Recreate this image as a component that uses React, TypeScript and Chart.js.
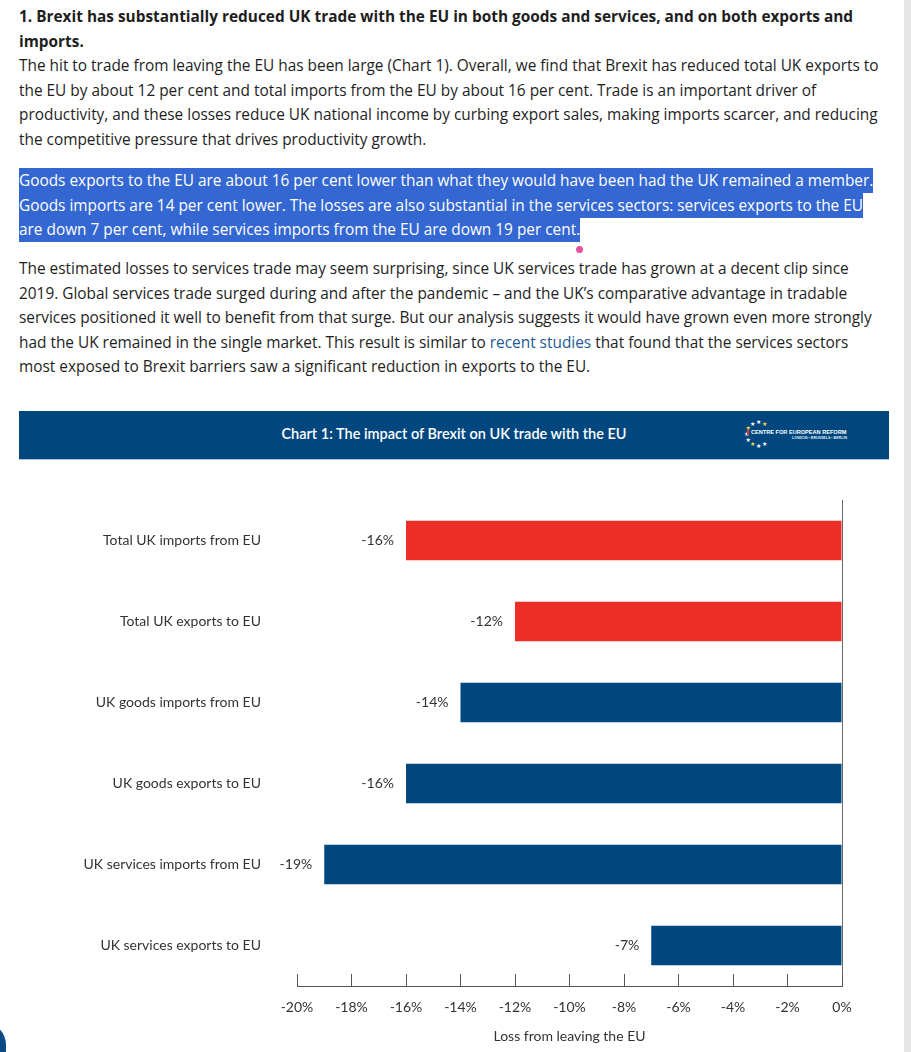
import React, { useEffect, useRef } from "react";
import { Chart, registerables } from "chart.js";

Chart.register(...registerables);

const categories = [
  "Total UK imports from EU",
  "Total UK exports to EU",
  "UK goods imports from EU",
  "UK goods exports to EU",
  "UK services imports from EU",
  "UK services exports to EU",
];
const lossValues = [-16, -12, -14, -16, -19, -7];
const barGroups = ["total", "total", "goods", "goods", "services", "services"];
const xMin = -20;
const xMax = 0;
const xStep = 2;
const axisTitle = "Loss from leaving the EU";
const chartTitle = "Chart 1: The impact of Brexit on UK trade with the EU";

const RED = "#ec2e28";
const NAVY = "#00477f";
const CHART_FONT = "Lato, 'Noto Sans', sans-serif";

const valueLabelPlugin = {
  id: "valueLabels",
  afterDatasetsDraw(chart: any) {
    const ctx = chart.ctx;
    const meta = chart.getDatasetMeta(0);
    ctx.save();
    ctx.font = `14px ${CHART_FONT}`;
    ctx.fillStyle = "#333";
    ctx.textAlign = "right";
    ctx.textBaseline = "middle";
    meta.data.forEach((el: any, i: number) => {
      const v = chart.data.datasets[0].data[i];
      ctx.fillText(`${v}%`, el.x - 12, el.y);
    });
    ctx.restore();
  },
};

function BarChart() {
  const ref = useRef<HTMLCanvasElement | null>(null);
  useEffect(() => {
    if (!ref.current) return;
    const chart = new Chart(ref.current, {
      type: "bar",
      data: {
        labels: categories,
        datasets: [
          {
            data: lossValues,
            backgroundColor: barGroups.map((g) => (g === "total" ? RED : NAVY)),
            borderWidth: 0,
            barPercentage: 0.49,
            categoryPercentage: 1,
          },
        ],
      },
      options: {
        indexAxis: "y",
        responsive: false,
        animation: false,
        devicePixelRatio: 1,
        layout: { padding: { top: 40, right: 47, left: 0, bottom: 0 } },
        plugins: { legend: { display: false }, tooltip: { enabled: false } },
        scales: {
          x: {
            min: xMin,
            max: xMax,
            ticks: {
              stepSize: xStep,
              callback: (v: any) => `${v}%`,
              font: { family: CHART_FONT, size: 14 },
              color: "#333",
              padding: 25,
              maxRotation: 0,
              autoSkip: false,
            },
            grid: {
              drawOnChartArea: true,
              color: (c: any) => (c.tick && c.tick.value === 0 ? "#666" : "rgba(0,0,0,0)"),
              tickColor: "#555",
              tickLength: -12,
              lineWidth: 1,
            },
            border: { display: true, color: "#555", width: 1 },
            title: {
              display: true,
              text: axisTitle,
              font: { family: CHART_FONT, size: 14, lineHeight: 1.2 },
              color: "#333",
              padding: { top: 0, bottom: 7 },
            },
            afterFit: (s: any) => {
              s.height = 66;
              s.paddingLeft = 0;
              s.paddingRight = 0;
            },
          },
          y: {
            ticks: {
              font: { family: CHART_FONT, size: 14 },
              color: "#333",
              padding: 36,
            },
            grid: { display: false, drawTicks: false },
            border: { display: false },
            afterFit: (s: any) => {
              s.width = 278;
              s.paddingTop = 0;
              s.paddingBottom = 0;
            },
          },
        },
      } as any,
      plugins: [valueLabelPlugin],
    });
    return () => chart.destroy();
  }, []);
  return (
    <canvas
      ref={ref}
      width={870}
      height={592}
      style={{ position: "absolute", left: 19, top: 460, width: 870, height: 592 }}
    />
  );
}

function Logo() {
  const cx = 759;
  const cy = 434;
  const r = 12;
  const angles = [60, 90, 120, 150, 180, 210, 240, 270, 300];
  return (
    <>
      {angles.map((a, i) => {
        const rad = (a * Math.PI) / 180;
        return (
          <span
            key={i}
            style={{
              position: "absolute",
              left: cx + r * Math.cos(rad) - 3,
              top: cy - r * Math.sin(rad) - 4,
              fontSize: 6,
              lineHeight: "8px",
              color: i % 3 === 0 ? "#f3d24a" : "#ffffff",
              fontFamily: "DejaVu Sans",
            }}
          >
            ★
          </span>
        );
      })}
      <div style={{ position: "absolute", left: 747, top: 430, width: 2, height: 5, background: "#e33" }} />
      <div
        style={{
          position: "absolute",
          left: 751,
          top: 428,
          fontFamily: "'Liberation Sans', Arial, sans-serif",
          fontWeight: 700,
          fontSize: 5.6,
          lineHeight: "8px",
          color: "#fff",
          whiteSpace: "nowrap",
        }}
      >
        CENTRE FOR EUROPEAN REFORM
      </div>
      <div
        style={{
          position: "absolute",
          left: 788,
          top: 436,
          width: 59,
          textAlign: "right",
          fontFamily: "'Liberation Sans', Arial, sans-serif",
          fontWeight: 700,
          fontSize: 3.6,
          lineHeight: "5px",
          color: "#dfe8f2",
          whiteSpace: "nowrap",
        }}
      >
        LONDON ▪ BRUSSELS ▪ BERLIN
      </div>
    </>
  );
}

const textStyle: React.CSSProperties = {
  position: "absolute",
  left: 19,
  width: 869,
  fontFamily: "'Open Sans', sans-serif",
  fontSize: 15.4,
  lineHeight: "24.6px",
  color: "#1e1e1e",
  margin: 0,
};

export default function App() {
  useEffect(() => {
    document.body.style.margin = "0";
  }, []);
  return (
    <div
      style={{
        position: "absolute",
        left: 0,
        top: 0,
        width: 911,
        height: 1052,
        overflow: "hidden",
        background: "#fff",
      }}
    >
      <div style={{ ...textStyle, top: 5 }}>
        <b>
          1. Brexit has substantially reduced UK trade with the EU in both goods and services, and on both
          exports and imports.
        </b>
        <br />
        The hit to trade from leaving the EU has been large (Chart 1). Overall, we find that Brexit has reduced
        total UK exports to the EU by about 12 per cent and total imports from the EU by about 16 per cent.
        Trade is an important driver of productivity, and these losses reduce UK national income by curbing
        export sales, making imports scarcer, and reducing the competitive pressure that drives productivity
        growth.
      </div>
      <div style={{ ...textStyle, top: 169 }}>
        <span
          style={{
            background: "#3467d2",
            color: "#fff",
            padding: "2px 0",
            boxDecorationBreak: "clone",
            WebkitBoxDecorationBreak: "clone",
          }}
        >
          Goods exports to the EU are about 16 per cent lower than what they would have been had the UK
          remained a member. Goods imports are 14 per cent lower. The losses are also substantial in the
          services sectors: services exports to the EU are down 7 per cent, while services imports from the EU
          are down 19 per cent.
        </span>
      </div>
      <div
        style={{
          position: "absolute",
          left: 576,
          top: 246,
          width: 7,
          height: 7,
          borderRadius: "50%",
          background: "#e6529a",
        }}
      />
      <div style={{ ...textStyle, top: 257 }}>
        The estimated losses to services trade may seem surprising, since UK services trade has grown at a
        decent clip since 2019. Global services trade surged during and after the pandemic – and the UK’s
        comparative advantage in tradable services positioned it well to benefit from that surge. But our
        analysis suggests it would have grown even more strongly had the UK remained in the single market.
        This result is similar to <span style={{ color: "#1d5a96" }}>recent studies</span> that found that the
        services sectors most exposed to Brexit barriers saw a significant reduction in exports to the EU.
      </div>

      <div
        style={{
          position: "absolute",
          left: 19,
          top: 411,
          width: 870,
          height: 48,
          background: NAVY,
        }}
      />
      <div style={{ position: "absolute", left: 19, top: 459, width: 870, height: 1, background: "#a9c3dc" }} />
      <div
        style={{
          position: "absolute",
          left: 19,
          top: 411,
          width: 870,
          height: 46,
          lineHeight: "46px",
          textAlign: "center",
          color: "#fff",
          fontFamily: CHART_FONT,
          fontSize: 14.5,
          fontWeight: 600,
        }}
      >
        {chartTitle}
      </div>
      <Logo />

      <BarChart />

      <div style={{ position: "absolute", left: 904, top: 0, width: 7, height: 1052, background: "#e6e6e6" }} />
      <div
        style={{
          position: "absolute",
          left: -40,
          top: 1022,
          width: 46,
          height: 60,
          borderRadius: 23,
          background: "#0b4a84",
        }}
      />
    </div>
  );
}
